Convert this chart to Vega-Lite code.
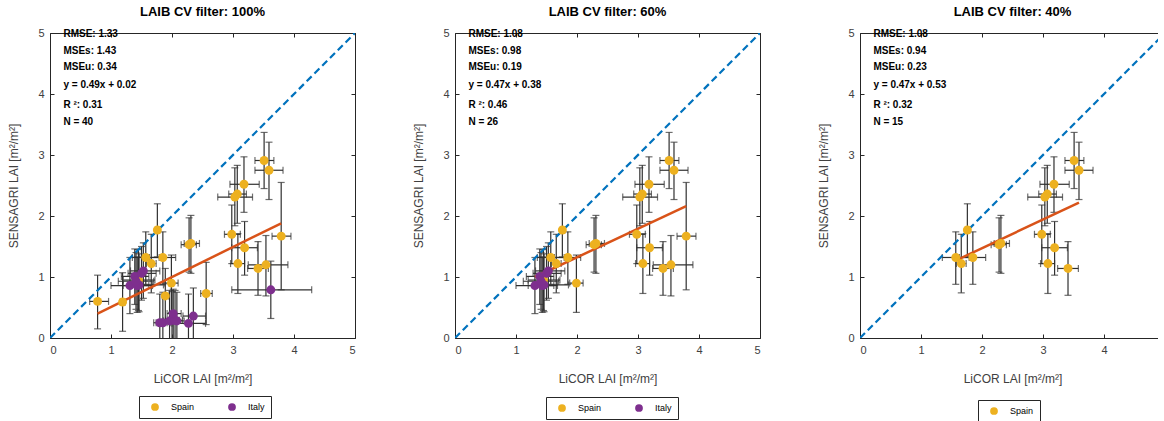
{
  "$schema": "https://vega.github.io/schema/vega-lite/v6.json",
  "background": "white",
  "padding": {"left": 7, "top": 5, "right": -8, "bottom": 0},
  "bounds": "flush",
  "spacing": 100,
  "datasets": {
    "diag": [{"x0": 0, "y0": 0, "x1": 5, "y1": 5}],
    "fits": [
      {"p": 100, "x": 0.78, "y": 0.40}, {"p": 100, "x": 3.79, "y": 1.88},
      {"p": 60, "x": 1.31, "y": 1.00}, {"p": 60, "x": 3.79, "y": 2.16},
      {"p": 40, "x": 1.57, "y": 1.27}, {"p": 40, "x": 3.59, "y": 2.22}
    ],
    "stats": [
      {"p": 100, "t": "RMSE: 1.33", "x": 0.22, "y": 4.99},
      {"p": 100, "t": "MSEs: 1.43", "x": 0.22, "y": 4.71},
      {"p": 100, "t": "MSEu: 0.34", "x": 0.22, "y": 4.44},
      {"p": 100, "t": "y = 0.49x + 0.02", "x": 0.22, "y": 4.15},
      {"p": 100, "t": "R ²: 0.31", "x": 0.22, "y": 3.82},
      {"p": 100, "t": "N = 40", "x": 0.22, "y": 3.54},
      {"p": 60, "t": "RMSE: 1.08", "x": 0.22, "y": 4.99},
      {"p": 60, "t": "MSEs: 0.98", "x": 0.22, "y": 4.71},
      {"p": 60, "t": "MSEu: 0.19", "x": 0.22, "y": 4.44},
      {"p": 60, "t": "y = 0.47x + 0.38", "x": 0.22, "y": 4.15},
      {"p": 60, "t": "R ²: 0.46", "x": 0.22, "y": 3.82},
      {"p": 60, "t": "N = 26", "x": 0.22, "y": 3.54},
      {"p": 40, "t": "RMSE: 1.08", "x": 0.22, "y": 4.99},
      {"p": 40, "t": "MSEs: 0.94", "x": 0.22, "y": 4.71},
      {"p": 40, "t": "MSEu: 0.23", "x": 0.22, "y": 4.44},
      {"p": 40, "t": "y = 0.47x + 0.53", "x": 0.22, "y": 4.15},
      {"p": 40, "t": "R ²: 0.32", "x": 0.22, "y": 3.82},
      {"p": 40, "t": "N = 15", "x": 0.22, "y": 3.54}
    ],
    "points": [
      {"c": "Spain", "lvl": 40, "x": 3.51, "y": 2.91, "xlo": 3.36, "xhi": 3.67, "ylo": 2.45, "yhi": 3.37},
      {"c": "Spain", "lvl": 40, "x": 3.59, "y": 2.75, "xlo": 3.36, "xhi": 3.82, "ylo": 2.27, "yhi": 3.21},
      {"c": "Spain", "lvl": 40, "x": 3.18, "y": 2.52, "xlo": 2.95, "xhi": 3.43, "ylo": 2.06, "yhi": 2.97},
      {"c": "Spain", "lvl": 40, "x": 3.07, "y": 2.36, "xlo": 2.93, "xhi": 3.22, "ylo": 1.88, "yhi": 2.83},
      {"c": "Spain", "lvl": 40, "x": 3.03, "y": 2.31, "xlo": 2.75, "xhi": 3.32, "ylo": 1.84, "yhi": 2.79},
      {"c": "Spain", "lvl": 40, "x": 2.98, "y": 1.70, "xlo": 2.86, "xhi": 3.12, "ylo": 1.22, "yhi": 2.18},
      {"c": "Spain", "lvl": 40, "x": 3.19, "y": 1.48, "xlo": 2.98, "xhi": 3.40, "ylo": 1.03, "yhi": 1.91},
      {"c": "Spain", "lvl": 40, "x": 3.08, "y": 1.22, "xlo": 2.96, "xhi": 3.19, "ylo": 0.73, "yhi": 1.71},
      {"c": "Spain", "lvl": 40, "x": 3.41, "y": 1.14, "xlo": 3.24, "xhi": 3.58, "ylo": 0.70, "yhi": 1.58},
      {"c": "Spain", "lvl": 40, "x": 2.28, "y": 1.53, "xlo": 2.15, "xhi": 2.40, "ylo": 1.08, "yhi": 1.97},
      {"c": "Spain", "lvl": 40, "x": 2.31, "y": 1.55, "xlo": 2.20, "xhi": 2.45, "ylo": 1.06, "yhi": 2.01},
      {"c": "Spain", "lvl": 40, "x": 1.76, "y": 1.77, "xlo": 1.73, "xhi": 1.80, "ylo": 1.33, "yhi": 2.20},
      {"c": "Spain", "lvl": 40, "x": 1.57, "y": 1.32, "xlo": 1.35, "xhi": 1.79, "ylo": 0.88, "yhi": 1.74},
      {"c": "Spain", "lvl": 40, "x": 1.66, "y": 1.22, "xlo": 1.58, "xhi": 1.74, "ylo": 0.74, "yhi": 1.70},
      {"c": "Spain", "lvl": 40, "x": 1.85, "y": 1.32, "xlo": 1.63, "xhi": 2.06, "ylo": 0.88, "yhi": 1.74},
      {"c": "Spain", "lvl": 60, "x": 3.79, "y": 1.67, "xlo": 3.64, "xhi": 3.95, "ylo": 0.79, "yhi": 2.55},
      {"c": "Spain", "lvl": 60, "x": 3.54, "y": 1.20, "xlo": 3.25, "xhi": 3.90, "ylo": 0.69, "yhi": 1.68},
      {"c": "Spain", "lvl": 60, "x": 1.99, "y": 0.90, "xlo": 1.88, "xhi": 2.10, "ylo": 0.42, "yhi": 1.36},
      {"c": "Spain", "lvl": 60, "x": 1.45, "y": 0.95, "xlo": 1.20, "xhi": 1.72, "ylo": 0.45, "yhi": 1.45},
      {"c": "Spain", "lvl": 100, "x": 0.78, "y": 0.60, "xlo": 0.65, "xhi": 0.96, "ylo": 0.15, "yhi": 1.03},
      {"c": "Spain", "lvl": 100, "x": 1.19, "y": 0.59, "xlo": 1.15, "xhi": 1.23, "ylo": 0.11, "yhi": 1.07},
      {"c": "Spain", "lvl": 100, "x": 1.89, "y": 0.69, "xlo": 1.84, "xhi": 1.94, "ylo": 0.24, "yhi": 1.14},
      {"c": "Spain", "lvl": 100, "x": 2.56, "y": 0.73, "xlo": 2.47, "xhi": 2.66, "ylo": 0.22, "yhi": 1.24},
      {"c": "Italy", "lvl": 60, "x": 1.31, "y": 0.86, "xlo": 1.00, "xhi": 1.62, "ylo": 0.40, "yhi": 1.32},
      {"c": "Italy", "lvl": 60, "x": 1.39, "y": 1.01, "xlo": 1.17, "xhi": 1.62, "ylo": 0.55, "yhi": 1.46},
      {"c": "Italy", "lvl": 60, "x": 1.43, "y": 0.86, "xlo": 1.20, "xhi": 1.68, "ylo": 0.42, "yhi": 1.33},
      {"c": "Italy", "lvl": 60, "x": 1.46, "y": 0.87, "xlo": 1.28, "xhi": 1.86, "ylo": 0.43, "yhi": 1.38},
      {"c": "Italy", "lvl": 60, "x": 1.50, "y": 1.06, "xlo": 1.28, "xhi": 1.74, "ylo": 0.62, "yhi": 1.50},
      {"c": "Italy", "lvl": 60, "x": 1.53, "y": 1.10, "xlo": 1.32, "xhi": 1.80, "ylo": 0.65, "yhi": 1.56},
      {"c": "Italy", "lvl": 60, "x": 1.41, "y": 0.93, "xlo": 1.12, "xhi": 1.70, "ylo": 0.47, "yhi": 1.40},
      {"c": "Italy", "lvl": 100, "x": 1.80, "y": 0.25, "xlo": 1.70, "xhi": 1.92, "ylo": -0.20, "yhi": 0.72},
      {"c": "Italy", "lvl": 100, "x": 1.85, "y": 0.25, "xlo": 1.74, "xhi": 1.97, "ylo": -0.25, "yhi": 0.75},
      {"c": "Italy", "lvl": 100, "x": 1.96, "y": 0.28, "xlo": 1.86, "xhi": 2.08, "ylo": -0.20, "yhi": 0.78},
      {"c": "Italy", "lvl": 100, "x": 2.00, "y": 0.29, "xlo": 1.90, "xhi": 2.12, "ylo": -0.20, "yhi": 0.76},
      {"c": "Italy", "lvl": 100, "x": 2.02, "y": 0.40, "xlo": 1.92, "xhi": 2.15, "ylo": -0.10, "yhi": 0.80},
      {"c": "Italy", "lvl": 100, "x": 2.05, "y": 0.29, "xlo": 1.94, "xhi": 2.17, "ylo": -0.20, "yhi": 0.78},
      {"c": "Italy", "lvl": 100, "x": 2.08, "y": 0.28, "xlo": 2.00, "xhi": 2.20, "ylo": -0.20, "yhi": 0.75},
      {"c": "Italy", "lvl": 100, "x": 2.27, "y": 0.24, "xlo": 2.00, "xhi": 2.55, "ylo": -0.25, "yhi": 0.72},
      {"c": "Italy", "lvl": 100, "x": 2.35, "y": 0.36, "xlo": 2.18, "xhi": 2.55, "ylo": -0.10, "yhi": 0.82},
      {"c": "Italy", "lvl": 100, "x": 3.62, "y": 0.79, "xlo": 2.98, "xhi": 4.29, "ylo": 0.32, "yhi": 1.26}
    ]
  },
  "config": {
    "font": "Liberation Sans",
    "view": {"stroke": "#262626", "strokeWidth": 1},
    "axis": {
      "grid": false, "domain": false, "tickColor": "#262626", "tickSize": -4,
      "labelColor": "#404040", "labelFontSize": 11, "labelFont": "Liberation Sans", "labelPadding": 10,
      "titleColor": "#404040", "titleFontSize": 12, "titleFontWeight": "normal", "titleFont": "Liberation Sans"
    },
    "legend": {"orient": "none", "direction": "horizontal", "title": null, "strokeColor": "#262626", "fillColor": "white", "padding": 6, "symbolType": "circle", "symbolSize": 60, "symbolOffset": 5, "labelFontSize": 9, "labelFont": "Liberation Sans", "labelColor": "#000000", "labelOffset": 11, "columnPadding": 27},
    "title": {"fontSize": 13, "fontWeight": "bold", "font": "Liberation Sans", "color": "#000000", "anchor": "middle", "offset": 8}
  },
  "resolve": {"scale": {"color": "independent"}, "legend": {"color": "independent"}},
  "hconcat": [
    {
      "width": 305, "height": 305,
      "title": "LAIB CV filter: 100%",
      "resolve": {"axis": {"x": "independent", "y": "independent"}},
      "layer": [
        {"data": {"name": "points"}, "transform": [{"filter": "datum.lvl <= 100"}],
         "mark": {"type": "errorbar", "ticks": {"size": 7, "thickness": 1.2}, "color": "#303030", "thickness": 1.2, "clip": true},
         "encoding": {"x": {"field": "xlo", "type": "quantitative", "axis": null}, "x2": {"field": "xhi"}, "y": {"field": "y", "type": "quantitative", "axis": null}}},
        {"data": {"name": "points"}, "transform": [{"filter": "datum.lvl <= 100"}],
         "mark": {"type": "errorbar", "ticks": {"size": 7, "thickness": 1.2}, "color": "#303030", "thickness": 1.2, "clip": true},
         "encoding": {"y": {"field": "ylo", "type": "quantitative", "axis": null}, "y2": {"field": "yhi"}, "x": {"field": "x", "type": "quantitative", "axis": null}}},
        {"data": {"name": "diag"},
         "mark": {"type": "rule", "color": "#0072BD", "strokeWidth": 2.2, "strokeDash": [7, 4], "clip": true},
         "encoding": {
           "x": {"field": "x0", "type": "quantitative", "scale": {"domain": [0, 5], "nice": false}, "axis": {"orient": "top", "values": [0, 1, 2, 3, 4, 5], "labels": false, "title": null}},
           "y": {"field": "y0", "type": "quantitative", "scale": {"domain": [0, 5], "nice": false}, "axis": {"orient": "right", "values": [0, 1, 2, 3, 4, 5], "labels": false, "title": null}},
           "x2": {"field": "x1"}, "y2": {"field": "y1"}}},
        {"data": {"name": "fits"}, "transform": [{"filter": "datum.p == 100"}],
         "mark": {"type": "line", "color": "#D95319", "strokeWidth": 2.5},
         "encoding": {"x": {"field": "x", "type": "quantitative", "axis": null}, "y": {"field": "y", "type": "quantitative", "axis": null}}},
        {"data": {"name": "points"}, "transform": [{"filter": "datum.lvl <= 100"}],
         "mark": {"type": "circle", "size": 80, "opacity": 1},
         "encoding": {
           "x": {"field": "x", "type": "quantitative", "scale": {"domain": [0, 5], "nice": false}, "axis": {"orient": "bottom", "values": [0, 1, 2, 3, 4, 5], "title": "LiCOR LAI [m²/m²]", "titlePadding": 18}},
           "y": {"field": "y", "type": "quantitative", "scale": {"domain": [0, 5], "nice": false}, "axis": {"orient": "left", "values": [0, 1, 2, 3, 4, 5], "title": "SENSAGRI LAI [m²/m²]", "titlePadding": 17}},
           "color": {"field": "c", "type": "nominal", "scale": {"domain": ["Spain", "Italy"], "range": ["#EDB120", "#7E2F8E"]},
             "legend": {"legendX": 89, "legendY": 363}}}},
        {"data": {"name": "stats"}, "transform": [{"filter": "datum.p == 100"}],
         "mark": {"type": "text", "align": "left", "baseline": "middle", "fontSize": 10, "fontWeight": "bold", "font": "Liberation Sans", "color": "#000000"},
         "encoding": {"x": {"field": "x", "type": "quantitative", "axis": null}, "y": {"field": "y", "type": "quantitative", "axis": null}, "text": {"field": "t"}}}
      ]
    },
    {
      "width": 305, "height": 305,
      "title": "LAIB CV filter: 60%",
      "resolve": {"axis": {"x": "independent", "y": "independent"}},
      "layer": [
        {"data": {"name": "points"}, "transform": [{"filter": "datum.lvl <= 60"}],
         "mark": {"type": "errorbar", "ticks": {"size": 7, "thickness": 1.2}, "color": "#303030", "thickness": 1.2, "clip": true},
         "encoding": {"x": {"field": "xlo", "type": "quantitative", "axis": null}, "x2": {"field": "xhi"}, "y": {"field": "y", "type": "quantitative", "axis": null}}},
        {"data": {"name": "points"}, "transform": [{"filter": "datum.lvl <= 60"}],
         "mark": {"type": "errorbar", "ticks": {"size": 7, "thickness": 1.2}, "color": "#303030", "thickness": 1.2, "clip": true},
         "encoding": {"y": {"field": "ylo", "type": "quantitative", "axis": null}, "y2": {"field": "yhi"}, "x": {"field": "x", "type": "quantitative", "axis": null}}},
        {"data": {"name": "diag"},
         "mark": {"type": "rule", "color": "#0072BD", "strokeWidth": 2.2, "strokeDash": [7, 4], "clip": true},
         "encoding": {
           "x": {"field": "x0", "type": "quantitative", "scale": {"domain": [0, 5], "nice": false}, "axis": {"orient": "top", "values": [0, 1, 2, 3, 4, 5], "labels": false, "title": null}},
           "y": {"field": "y0", "type": "quantitative", "scale": {"domain": [0, 5], "nice": false}, "axis": {"orient": "right", "values": [0, 1, 2, 3, 4, 5], "labels": false, "title": null}},
           "x2": {"field": "x1"}, "y2": {"field": "y1"}}},
        {"data": {"name": "fits"}, "transform": [{"filter": "datum.p == 60"}],
         "mark": {"type": "line", "color": "#D95319", "strokeWidth": 2.5},
         "encoding": {"x": {"field": "x", "type": "quantitative", "axis": null}, "y": {"field": "y", "type": "quantitative", "axis": null}}},
        {"data": {"name": "points"}, "transform": [{"filter": "datum.lvl <= 60"}],
         "mark": {"type": "circle", "size": 80, "opacity": 1},
         "encoding": {
           "x": {"field": "x", "type": "quantitative", "scale": {"domain": [0, 5], "nice": false}, "axis": {"orient": "bottom", "values": [0, 1, 2, 3, 4, 5], "title": "LiCOR LAI [m²/m²]", "titlePadding": 18}},
           "y": {"field": "y", "type": "quantitative", "scale": {"domain": [0, 5], "nice": false}, "axis": {"orient": "left", "values": [0, 1, 2, 3, 4, 5], "title": "SENSAGRI LAI [m²/m²]", "titlePadding": 17}},
           "color": {"field": "c", "type": "nominal", "scale": {"domain": ["Spain", "Italy"], "range": ["#EDB120", "#7E2F8E"]},
             "legend": {"legendX": 91, "legendY": 364}}}},
        {"data": {"name": "stats"}, "transform": [{"filter": "datum.p == 60"}],
         "mark": {"type": "text", "align": "left", "baseline": "middle", "fontSize": 10, "fontWeight": "bold", "font": "Liberation Sans", "color": "#000000"},
         "encoding": {"x": {"field": "x", "type": "quantitative", "axis": null}, "y": {"field": "y", "type": "quantitative", "axis": null}, "text": {"field": "t"}}}
      ]
    },
    {
      "width": 305, "height": 305,
      "title": "LAIB CV filter: 40%",
      "resolve": {"axis": {"x": "independent", "y": "independent"}},
      "layer": [
        {"data": {"name": "points"}, "transform": [{"filter": "datum.lvl <= 40"}],
         "mark": {"type": "errorbar", "ticks": {"size": 7, "thickness": 1.2}, "color": "#303030", "thickness": 1.2, "clip": true},
         "encoding": {"x": {"field": "xlo", "type": "quantitative", "axis": null}, "x2": {"field": "xhi"}, "y": {"field": "y", "type": "quantitative", "axis": null}}},
        {"data": {"name": "points"}, "transform": [{"filter": "datum.lvl <= 40"}],
         "mark": {"type": "errorbar", "ticks": {"size": 7, "thickness": 1.2}, "color": "#303030", "thickness": 1.2, "clip": true},
         "encoding": {"y": {"field": "ylo", "type": "quantitative", "axis": null}, "y2": {"field": "yhi"}, "x": {"field": "x", "type": "quantitative", "axis": null}}},
        {"data": {"name": "diag"},
         "mark": {"type": "rule", "color": "#0072BD", "strokeWidth": 2.2, "strokeDash": [7, 4], "clip": true},
         "encoding": {
           "x": {"field": "x0", "type": "quantitative", "scale": {"domain": [0, 5], "nice": false}, "axis": {"orient": "top", "values": [0, 1, 2, 3, 4, 5], "labels": false, "title": null}},
           "y": {"field": "y0", "type": "quantitative", "scale": {"domain": [0, 5], "nice": false}, "axis": {"orient": "right", "values": [0, 1, 2, 3, 4, 5], "labels": false, "title": null}},
           "x2": {"field": "x1"}, "y2": {"field": "y1"}}},
        {"data": {"name": "fits"}, "transform": [{"filter": "datum.p == 40"}],
         "mark": {"type": "line", "color": "#D95319", "strokeWidth": 2.5},
         "encoding": {"x": {"field": "x", "type": "quantitative", "axis": null}, "y": {"field": "y", "type": "quantitative", "axis": null}}},
        {"data": {"name": "points"}, "transform": [{"filter": "datum.lvl <= 40"}],
         "mark": {"type": "circle", "size": 80, "opacity": 1},
         "encoding": {
           "x": {"field": "x", "type": "quantitative", "scale": {"domain": [0, 5], "nice": false}, "axis": {"orient": "bottom", "values": [0, 1, 2, 3, 4, 5], "title": "LiCOR LAI [m²/m²]", "titlePadding": 18}},
           "y": {"field": "y", "type": "quantitative", "scale": {"domain": [0, 5], "nice": false}, "axis": {"orient": "left", "values": [0, 1, 2, 3, 4, 5], "title": "SENSAGRI LAI [m²/m²]", "titlePadding": 17}},
           "color": {"field": "c", "type": "nominal", "scale": {"domain": ["Spain"], "range": ["#EDB120"]},
             "legend": {"legendX": 118, "legendY": 367}}}},
        {"data": {"name": "stats"}, "transform": [{"filter": "datum.p == 40"}],
         "mark": {"type": "text", "align": "left", "baseline": "middle", "fontSize": 10, "fontWeight": "bold", "font": "Liberation Sans", "color": "#000000"},
         "encoding": {"x": {"field": "x", "type": "quantitative", "axis": null}, "y": {"field": "y", "type": "quantitative", "axis": null}, "text": {"field": "t"}}}
      ]
    }
  ]
}
